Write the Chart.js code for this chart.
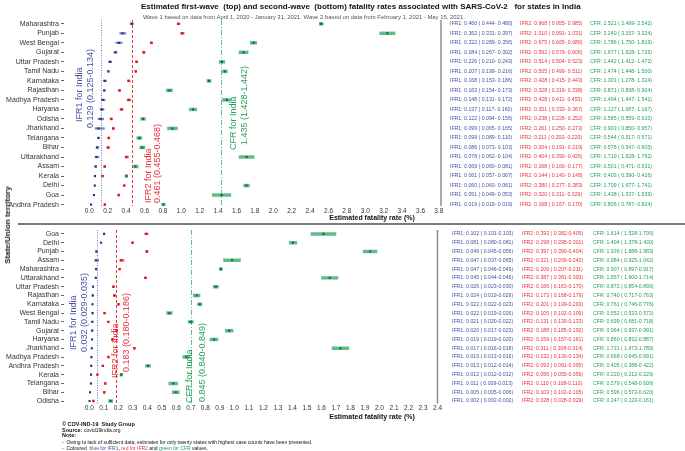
<!DOCTYPE html>
<html>
<head>
<meta charset="utf-8">
<script src="https://cdn.jsdelivr.net/npm/chart.js@4.4.0/dist/chart.umd.min.js"></script>
<style>
  body { margin: 0; background: #fff; }
  #wrap { position: relative; width: 685px; height: 451px; overflow: hidden; font-family: "Liberation Sans", Arial, sans-serif; }
  canvas { position: absolute; left: 0; }
  .t { position: absolute; white-space: pre; z-index: 2; }
</style>
</head>
<body>
<div id="wrap">
  <canvas id="wave1" width="685" height="226" style="top:0"></canvas>
  <canvas id="wave2" width="685" height="225" style="top:226px"></canvas>
  <div class="t" style="left:141px;top:2px;font:bold 8px/10px 'Liberation Sans';color:#111">Estimated first-wave  (top) and second-wave  (bottom) fatality rates associated with SARS-CoV-2   for states in India</div>
  <div class="t" style="left:143px;top:12.5px;font:5.9px/8px 'Liberation Sans';color:#555">Wave 1 based on data from April 1, 2020 - January 31, 2021. Wave 2 based on data from February 1, 2021 - May 15, 2021.</div>
  <div class="t" style="left:8px;top:225px;transform:translate(-50%,-50%) rotate(-90deg);font:bold 8px/10px 'Liberation Sans';color:#222">State/Union territory</div>
  <div class="t" style="left:18px;top:223px;width:667px;height:2px;background:#7a7a7a"></div>
</div>

<script>
Chart.defaults.font.family = "'Liberation Sans', Arial, sans-serif";

// wave 1 (top panel)
var statesW1 = ['Maharashtra', 'Punjab', 'West Bengal', 'Gujarat', 'Uttar Pradesh', 'Tamil Nadu', 'Karnataka', 'Rajasthan', 'Madhya Pradesh', 'Haryana', 'Odisha', 'Jharkhand', 'Telangana', 'Bihar', 'Uttarakhand', 'Assam', 'Kerala', 'Delhi', 'Goa', 'Andhra Pradesh'];
var ifr1W1   = [0.460, 0.362, 0.322, 0.284, 0.226, 0.207, 0.168, 0.163, 0.148, 0.137, 0.122, 0.099, 0.099, 0.086, 0.078, 0.069, 0.061, 0.060, 0.051, 0.019];
var ifr1W1Lo = [0.444, 0.331, 0.289, 0.267, 0.210, 0.199, 0.153, 0.154, 0.131, 0.117, 0.094, 0.065, 0.089, 0.073, 0.062, 0.060, 0.057, 0.060, 0.049, 0.019];
var ifr1W1Hi = [0.480, 0.397, 0.356, 0.302, 0.243, 0.216, 0.186, 0.173, 0.172, 0.160, 0.156, 0.165, 0.110, 0.103, 0.104, 0.081, 0.067, 0.061, 0.053, 0.019];
var ifr2W1   = [0.968, 1.010, 0.675, 0.592, 0.514, 0.505, 0.428, 0.328, 0.428, 0.351, 0.238, 0.261, 0.211, 0.204, 0.404, 0.168, 0.144, 0.380, 0.320, 0.168];
var ifr2W1Lo = [0.955, 0.991, 0.665, 0.579, 0.504, 0.499, 0.415, 0.319, 0.411, 0.333, 0.226, 0.250, 0.202, 0.191, 0.390, 0.160, 0.140, 0.377, 0.311, 0.167];
var ifr2W1Hi = [0.985, 1.031, 0.686, 0.606, 0.523, 0.511, 0.443, 0.338, 0.453, 0.367, 0.252, 0.273, 0.220, 0.219, 0.426, 0.177, 0.148, 0.383, 0.329, 0.170];
var cfrW1    = [2.521, 3.240, 1.786, 1.677, 1.442, 1.474, 1.301, 0.871, 1.494, 1.127, 0.585, 0.903, 0.544, 0.576, 1.710, 0.501, 0.403, 1.709, 1.438, 0.806];
var cfrW1Lo  = [2.499, 3.157, 1.750, 1.628, 1.412, 1.448, 1.278, 0.838, 1.447, 1.087, 0.559, 0.850, 0.517, 0.547, 1.628, 0.471, 0.390, 1.677, 1.337, 0.787];
var cfrW1Hi  = [2.542, 3.324, 1.819, 1.726, 1.472, 1.500, 1.324, 0.904, 1.541, 1.167, 0.610, 0.957, 0.571, 0.605, 1.792, 0.531, 0.416, 1.741, 1.539, 0.824];
var indiaW1       = [0.129, 0.461, 1.435];
var indiaW1Text   = ['0.129 (0.125-0.134)', '0.461 (0.455-0.468)', '1.435 (1.428-1.442)'];
var xTicksW1 = [0, 0.2, 0.4, 0.6, 0.8, 1.0, 1.2, 1.4, 1.6, 1.8, 2.0, 2.2, 2.4, 2.6, 2.8, 3.0, 3.2, 3.4, 3.6, 3.8];

// wave 2 (bottom panel)
var statesW2 = ['Goa', 'Delhi', 'Punjab', 'Assam', 'Maharashtra', 'Uttarakhand', 'Uttar Pradesh', 'Rajasthan', 'Karnataka', 'West Bengal', 'Tamil Nadu', 'Gujarat', 'Haryana', 'Jharkhand', 'Madhya Pradesh', 'Andhra Pradesh', 'Kerala', 'Telangana', 'Bihar', 'Odisha'];
var ifr1W2   = [0.102, 0.081, 0.049, 0.047, 0.047, 0.045, 0.026, 0.024, 0.022, 0.022, 0.021, 0.020, 0.019, 0.017, 0.015, 0.013, 0.012, 0.011, 0.005, 0.002];
var ifr1W2Lo = [0.101, 0.080, 0.045, 0.037, 0.046, 0.044, 0.023, 0.019, 0.022, 0.019, 0.020, 0.017, 0.019, 0.016, 0.013, 0.012, 0.012, 0.009, 0.005, 0.002];
var ifr1W2Hi = [0.103, 0.081, 0.056, 0.065, 0.049, 0.046, 0.030, 0.029, 0.023, 0.026, 0.022, 0.023, 0.020, 0.018, 0.016, 0.014, 0.012, 0.013, 0.006, 0.002];
var ifr2W2   = [0.393, 0.298, 0.397, 0.221, 0.209, 0.387, 0.166, 0.173, 0.201, 0.105, 0.131, 0.188, 0.159, 0.311, 0.132, 0.093, 0.056, 0.110, 0.103, 0.028];
var ifr2W2Lo = [0.382, 0.295, 0.390, 0.209, 0.207, 0.381, 0.163, 0.168, 0.199, 0.102, 0.130, 0.185, 0.157, 0.308, 0.130, 0.091, 0.055, 0.108, 0.102, 0.028];
var ifr2W2Hi = [0.405, 0.301, 0.404, 0.240, 0.211, 0.393, 0.170, 0.179, 0.203, 0.109, 0.133, 0.192, 0.161, 0.314, 0.134, 0.095, 0.056, 0.113, 0.105, 0.029];
var cfrW2    = [1.614, 1.404, 1.936, 0.984, 0.907, 1.657, 0.872, 0.740, 0.761, 0.552, 0.699, 0.964, 0.860, 1.731, 0.668, 0.405, 0.220, 0.579, 0.596, 0.147];
var cfrW2Lo  = [1.528, 1.378, 1.888, 0.925, 0.897, 1.600, 0.854, 0.717, 0.746, 0.533, 0.681, 0.937, 0.832, 1.673, 0.645, 0.388, 0.212, 0.548, 0.572, 0.133];
var cfrW2Hi  = [1.700, 1.430, 1.983, 1.042, 0.917, 1.714, 0.890, 0.763, 0.776, 0.572, 0.718, 0.991, 0.887, 1.789, 0.691, 0.422, 0.229, 0.609, 0.620, 0.161];
var indiaW2       = [0.05, 0.183, 0.70];   // where the reference lines sit in the picture
var indiaW2Text   = ['0.032 (0.029-0.035)', '0.183 (0.180-0.186)', '0.845 (0.840-0.849)'];
var xTicksW2 = [0, 0.1, 0.2, 0.3, 0.4, 0.5, 0.6, 0.7, 0.8, 0.9, 1.0, 1.1, 1.2, 1.3, 1.4, 1.5, 1.6, 1.7, 1.8, 1.9, 2.0, 2.1, 2.2, 2.3, 2.4];

var measureNames = ['IFR1', 'IFR2', 'CFR'];
var textCol  = ['#4553a3', '#e8333a', '#26a05c'];
var ciCol    = ['rgba(75,90,170,0.75)', 'rgba(232,50,55,0.75)', 'rgba(60,170,110,0.8)'];
var ptCol    = ['#27357f', '#e0151b', '#0c6b35'];
var lineCol  = ['#6f7cc6', '#e8383d', '#62c08c'];
var lineDash = [[1, 1.5], [3, 2], [5, 2, 1, 2]];

function fix(v) { return v.toFixed(3); }
function ciData(lo, hi) { return lo.map(function (v, i) { return { y: i, x: [v, hi[i]] }; }); }
function ptData(v) { return v.map(function (x, i) { return { x: x, y: i }; }); }

function panelPlugin(p) {
  return {
    id: 'panel',
    beforeDatasetsDraw: function (chart) {
      var ctx = chart.ctx, a = chart.chartArea, xs = chart.scales.x;
      ctx.save();
      ctx.strokeStyle = '#8c8c8c';
      ctx.lineWidth = 1.5;
      ctx.beginPath(); ctx.moveTo(a.right, a.top); ctx.lineTo(a.right, a.bottom); ctx.stroke();
      p.india.forEach(function (v, k) {
        var px = Math.round(xs.getPixelForValue(v)) + 0.5;
        ctx.strokeStyle = lineCol[k];
        ctx.lineWidth = 1;
        ctx.setLineDash(lineDash[k]);
        ctx.beginPath(); ctx.moveTo(px, a.top); ctx.lineTo(px, a.bottom); ctx.stroke();
      });
      ctx.restore();
    },
    afterDraw: function (chart) {
      var ctx = chart.ctx, xs = chart.scales.x, ys = chart.scales.y;
      ctx.save();
      // rotated India annotations
      ctx.font = '9px "Liberation Sans"';
      ctx.textAlign = 'left';
      ctx.textBaseline = 'middle';
      p.india.forEach(function (v, k) {
        var px = xs.getPixelForValue(v);
        ctx.fillStyle = textCol[k];
        [[measureNames[k] + ' for India', p.labDx[k], p.labY[k]], [p.indiaText[k], p.valDx[k], p.valY[k]]].forEach(function (t) {
          ctx.save();
          ctx.translate(px + t[1], t[2]);
          ctx.rotate(-Math.PI / 2);
          ctx.fillText(t[0], 0, 0);
          ctx.restore();
        });
      });
      // right-hand table
      ctx.font = '5.2px "Liberation Sans"';
      p.states.forEach(function (s, i) {
        var y = ys.getPixelForValue(i);
        [0, 1, 2].forEach(function (k) {
          var txt = measureNames[k] + ': ' + fix(p.v[k][i]) + ' ( ' + fix(p.lo[k][i]) + p.sep + fix(p.hi[k][i]) + ')';
          ctx.fillStyle = textCol[k];
          ctx.fillText(txt, p.cols[k], y);
        });
      });
      // axis title
      ctx.font = 'bold 7px "Liberation Sans"';
      ctx.fillStyle = '#111';
      ctx.textAlign = 'center';
      ctx.fillText('Estimated fatality rate (%)', 372, p.axisTitleY);
      if (p.footer) p.footer(ctx);
      ctx.restore();
    }
  };
}

function drawFooter(ctx) {
  var x = 62;
  ctx.textAlign = 'left';
  ctx.textBaseline = 'middle';
  ctx.fillStyle = '#111';
  ctx.font = 'bold 5.5px "Liberation Sans"';
  ctx.fillText('\u00a9 COV-IND-19  Study Group', x, 198.3);
  ctx.fillText('Source:', x, 204.7);
  var w = ctx.measureText('Source: ').width;
  ctx.fillText('Note:', x, 209.7);
  ctx.font = '5px "Liberation Sans"';
  ctx.fillText('covid19india.org', x + w, 204.7);
  ctx.fillText('-  Owing to lack of sufficient data, estimates for only twenty states with highest case counts have been presented.', x, 216.3);
  var parts = [['-  Coloured  ', '#111'], ['blue for IFR1', textCol[0]], [', ', '#111'], ['red for IFR2', textCol[1]], [' and ', '#111'], ['green for CFR', textCol[2]], [' values.', '#111']];
  var cx = x;
  parts.forEach(function (pt) {
    ctx.fillStyle = pt[1];
    ctx.fillText(pt[0], cx, 222.3);
    cx += ctx.measureText(pt[0]).width;
  });
}

function makePanel(id, p) {
  var datasets = [];
  [0, 1, 2].forEach(function (k) {
    datasets.push({
      type: 'bar', indexAxis: 'y', grouped: false, order: 2,
      data: ciData(p.lo[k], p.hi[k]),
      backgroundColor: ciCol[k], borderWidth: 0,
      barThickness: k === 2 ? 2.8 : 1.6
    });
    datasets.push({
      type: 'scatter', order: 1,
      data: ptData(p.v[k]),
      pointStyle: 'rect', pointRadius: k === 1 ? 1.7 : 1.5, borderWidth: 0,
      backgroundColor: ptCol[k]
    });
  });

  return new Chart(document.getElementById(id), {
    type: 'scatter',
    data: { datasets: datasets },
    plugins: [panelPlugin(p)],
    options: {
      responsive: false,
      maintainAspectRatio: false,
      animation: false,
      layout: { padding: { top: p.padTop, right: p.padRight, left: 0, bottom: 0 } },
      plugins: { legend: { display: false }, tooltip: { enabled: false } },
      scales: {
        x: {
          type: 'linear', min: p.xMin, max: p.xMax, offset: false, beginAtZero: false,
          afterBuildTicks: function (s) { s.ticks = p.xTicks.map(function (v) { return { value: v }; }); },
          afterFit: function (s) { s.height = p.xHeight; s.paddingLeft = 0; s.paddingRight = 0; },
          ticks: {
            autoSkip: false, maxRotation: 0, padding: 1, color: '#333',
            font: { size: 6.5 },
            callback: function (v) { return v.toFixed(1); }
          },
          grid: { display: false, drawTicks: false },
          border: { display: false }
        },
        y: {
          type: 'linear', reverse: true, min: p.yMin, max: p.yMax, offset: false,
          afterBuildTicks: function (s) { s.ticks = p.states.map(function (n, i) { return { value: i }; }); },
          afterFit: function (s) { s.width = 64; s.paddingTop = 0; s.paddingBottom = 0; },
          ticks: {
            autoSkip: false, padding: 2, color: '#333',
            font: { size: 7 },
            callback: function (v) { return p.states[v]; }
          },
          grid: { display: true, drawOnChartArea: false, drawTicks: true, tickLength: 3, color: '#666', offset: false },
          border: { display: false }
        }
      }
    }
  });
}

makePanel('wave1', {
  states: statesW1,
  v: [ifr1W1, ifr2W1, cfrW1], lo: [ifr1W1Lo, ifr2W1Lo, cfrW1Lo], hi: [ifr1W1Hi, ifr2W1Hi, cfrW1Hi],
  india: indiaW1, indiaText: indiaW1Text,
  labDx: [-22, 17, 12], labY: [122, 203, 150],
  valDx: [-11, 26, 23], valY: [128, 203, 145],
  xTicks: xTicksW1, xMin: -0.275, xMax: 3.823,
  yMin: -0.40, yMax: 19.15,
  padTop: 20, padRight: 244, xHeight: 20,
  cols: [450, 520, 590], sep: '- ',
  axisTitleY: 218.3
});

makePanel('wave2', {
  states: statesW2,
  v: [ifr1W2, ifr2W2, cfrW2], lo: [ifr1W2Lo, ifr2W2Lo, cfrW2Lo], hi: [ifr1W2Hi, ifr2W2Hi, cfrW2Hi],
  india: indiaW2, indiaText: indiaW2Text,
  labDx: [-23, 0, -1], labY: [124, 152, 177],
  valDx: [-12, 11, 12], valY: [126, 146, 176],
  xTicks: xTicksW2, xMin: -0.1744, xMax: 2.4,
  yMin: -0.444, yMax: 19.278,
  padTop: 0, padRight: 247.5, xHeight: 47.5,
  cols: [452, 522, 593], sep: '-',
  axisTitleY: 190.7,
  footer: drawFooter
});
</script>
</body>
</html>
